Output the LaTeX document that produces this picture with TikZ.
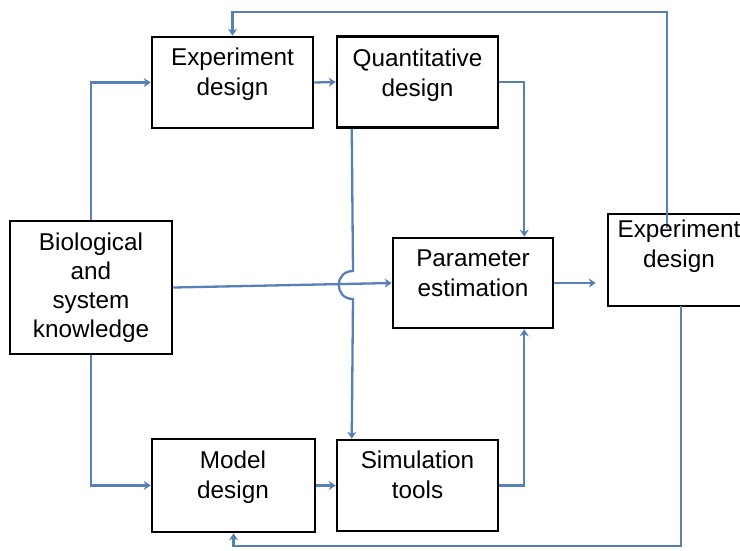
\documentclass[tikz,border=0pt]{standalone}
\usepackage{fontspec}
\setmainfont{Liberation Sans}
\usetikzlibrary{arrows.meta,calc}
\definecolor{flow}{RGB}{88,128,184}
\begin{document}
\begin{tikzpicture}[x=1pt,y=-1pt,
  box/.style={draw=black,line width=2.5pt,minimum width=161pt,minimum height=91pt,inner sep=0pt},
  lbl/.style={anchor=north,inner sep=0pt,align=center,font=\fontsize{24.3}{30}\selectfont},
  flowline/.style={draw=flow,line width=2.3pt,-{Stealth[length=7pt,width=9pt]}},
]
\useasboundingbox (0,0) rectangle (740,550);
% boxes
\node[box] (ed) at (232.5,82.5) {};
\node[box] (qd) at (417.5,82) {};
\node[box,minimum width=162pt,minimum height=133pt] (bk) at (91,287.5) {};
\node[box,minimum width=160pt,minimum height=90pt] (pe) at (473,283) {};
\node[box,minimum width=172pt,minimum height=92pt] (ed2) at (694,260) {};
\node[box,minimum width=163pt,minimum height=93pt] (md) at (233.5,485.5) {};
\node[box] (st) at (417.5,485.5) {};
% coordinates
\coordinate (pein) at ($(pe.north east)+(-30,0)$);
\coordinate (pebot) at ($(pe.south east)+(-30,0)$);
\coordinate (qdout) at ($(qd.south west)+(16,0)$);
\coordinate (hopa) at (353,271);
\coordinate (hopb) at (353,299);
\coordinate (ed2in) at (667,228);
\coordinate (topy) at (667,12);
\coordinate (ed2out) at (681,306);
\coordinate (boty) at (681,546);
% connectors
\draw[flowline] (bk.north) |- (ed.west);
\draw[flowline] (ed.east) -- (qd.west);
\draw[flowline] (qd.east) -| (pein);
\draw[flowline] (qdout) -- (hopa) .. controls ($(hopa)+(-19,0)$) and ($(hopb)+(-19,0)$) .. (hopb) -- (qdout |- st.north);
\draw[flowline] (bk.east) -- (pe.west);
\draw[flowline,shorten >=11pt] (pe.east) -- (pe.east -| ed2.west);
\draw[flowline] (ed2in) -- (topy) -| (ed.north);
\draw[flowline] (ed2out) -- (boty) -| (md.south);
\draw[flowline] (bk.south) |- (md.west);
\draw[flowline] (md.east) -- (st.west);
\draw[flowline] (st.east) -| (pebot);
% texts
\node[lbl] (edt) at (232.5,47.6) {Experiment\\design};
\node[lbl] (qdt) at (417.5,48.6) {Quantitative\\design};
\node[lbl,font=\fontsize{24.3}{29}\selectfont] (bkt) at (91,232.6) {Biological\\and\\system\\knowledge};
\node[lbl] (pet) at (473,249.6) {Parameter\\estimation};
\node[lbl] (ed2t) at (679,219.6) {Experiment\\design};
\node[lbl] (mdt) at (233,450.6) {Model\\design};
\node[lbl] (stt) at (417.5,450.6) {Simulation\\tools};
\end{tikzpicture}
\end{document}
